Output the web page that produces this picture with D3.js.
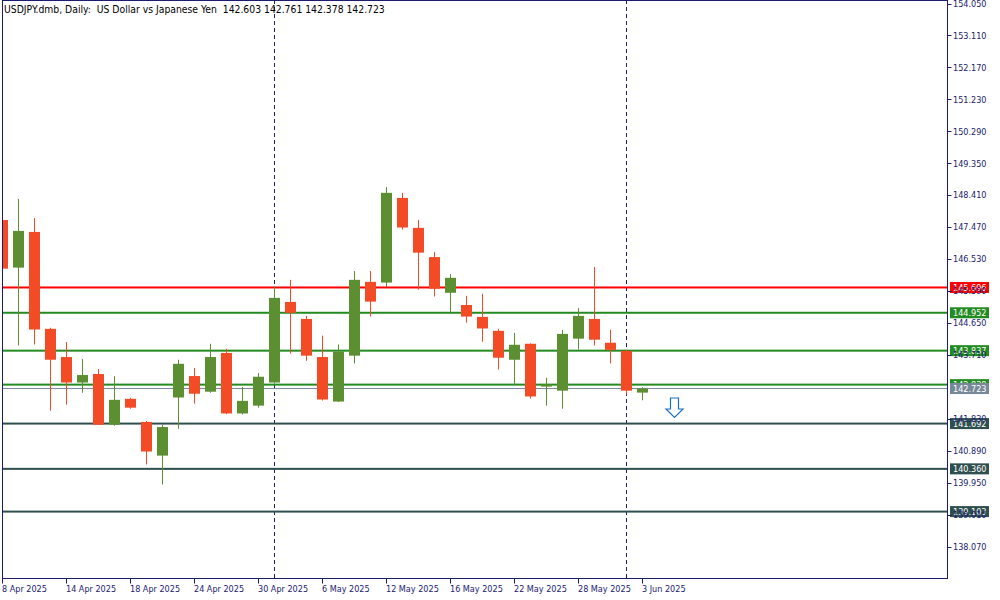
<!DOCTYPE html>
<html><head><meta charset="utf-8">
<script src="https://cdn.jsdelivr.net/npm/d3@7"></script>
<style>
body{margin:0;background:#fff}
svg{display:block}
text{font-family:"DejaVu Sans Condensed","DejaVu Sans",sans-serif;font-size:9px}
</style>
</head><body>
<svg id="c" width="1000" height="600"></svg>
<script>
const title = "USDJPY.dmb, Daily:  US Dollar vs Japanese Yen  142.603 142.761 142.378 142.723";
const dates = ["8 Apr 2025","9 Apr 2025","10 Apr 2025","11 Apr 2025","14 Apr 2025","15 Apr 2025","16 Apr 2025","17 Apr 2025","18 Apr 2025","21 Apr 2025","22 Apr 2025","23 Apr 2025","24 Apr 2025","25 Apr 2025","28 Apr 2025","29 Apr 2025","30 Apr 2025","1 May 2025","2 May 2025","5 May 2025","6 May 2025","7 May 2025","8 May 2025","9 May 2025","12 May 2025","13 May 2025","14 May 2025","15 May 2025","16 May 2025","19 May 2025","20 May 2025","21 May 2025","22 May 2025","23 May 2025","26 May 2025","27 May 2025","28 May 2025","29 May 2025","30 May 2025","2 Jun 2025","3 Jun 2025"];
const opens  = [147.68,146.28,147.33,144.48,143.65,142.90,143.15,141.66,142.42,141.74,140.75,142.46,143.09,142.63,143.77,141.99,142.22,142.90,145.27,144.77,143.65,142.34,143.69,145.86,145.84,148.33,147.45,146.59,145.54,145.18,144.83,144.42,143.57,144.04,142.78,142.66,144.19,144.77,144.07,143.83,142.603];
const highs  = [147.71,148.30,147.74,144.51,144.09,143.59,143.30,143.09,142.45,141.77,141.65,143.57,143.33,144.04,143.89,142.77,143.18,145.74,145.92,144.86,144.28,144.02,146.18,146.18,148.65,148.48,147.68,146.74,146.09,145.45,145.51,144.48,144.36,144.05,143.04,144.45,145.09,146.30,144.45,143.86,142.761];
const lows   = [146.24,143.99,144.02,142.07,142.25,142.60,141.65,141.63,142.13,140.49,139.90,141.54,142.28,142.60,141.97,141.96,142.16,142.87,143.75,143.54,142.37,142.33,143.46,144.84,145.71,147.40,145.63,145.43,144.96,144.66,144.10,143.28,142.81,142.43,142.22,142.13,143.87,143.99,143.46,142.54,142.378];
const closes = [146.25,147.36,144.46,143.57,142.90,143.12,141.66,142.39,142.16,140.87,141.59,143.45,142.57,143.65,141.99,142.36,143.07,145.39,144.95,143.69,142.40,143.81,145.92,145.28,148.48,147.46,146.72,145.66,145.98,144.84,144.49,143.63,144.01,142.49,142.84,144.33,144.86,144.16,143.86,142.66,142.723];
const priceTicks = ["154.050","153.110","152.170","151.230","150.290","149.350","148.410","147.470","146.530","145.590","144.650","143.710","141.830","140.890","139.950","139.010","138.070"];
const dateTickIdx = [0,4,8,12,16,20,24,28,32,36,40];
const separatorIdx = [17,39];
const resistanceLevels = [145.696];
const greenLevels = [144.952,143.837,142.838];
const supportLevels = [141.692,140.360,139.103];
const bidPrice = 142.723;
const signalIdx = 42;

const svg = d3.select("#c");
const navy = "#1B1B6F";
const L = 2.5, R = 947.5, T = 0.5, B = 578.5;

const x = d3.scaleLinear().domain([0, 40]).range([2.5, 642.5]);
const y = d3.scaleLinear().domain([138.07, 154.05]).range([546.7, 3.5]);

svg.append("defs").append("clipPath").attr("id", "clip")
  .append("rect").attr("x", 3).attr("y", 0).attr("width", R - 3).attr("height", B);

const plot = svg.append("g").attr("clip-path", "url(#clip)");
// separators
plot.selectAll("line.sep").data(separatorIdx).join("line")
  .attr("x1", d => x(d)).attr("x2", d => x(d)).attr("y1", 0).attr("y2", B)
  .attr("stroke", navy).attr("stroke-width", 1).attr("stroke-dasharray", "4,3");

// level lines
function levelLines(vals, color, w) {
  plot.selectAll(null).data(vals).join("rect")
    .attr("x", L).attr("width", R - L).attr("y", d => y(d) - w/2).attr("height", w)
    .attr("fill", color);
}
levelLines(resistanceLevels, "#FF0000", 2);
levelLines(greenLevels, "#228B22", 2);
levelLines(supportLevels, "#2F4F4F", 2);
plot.append("rect").attr("x", L).attr("width", R - L).attr("y", y(bidPrice) - 0.5).attr("height", 1).attr("fill", "#778899");

// candles
const idx = d3.range(dates.length);
const up = i => closes[i] >= opens[i];
const colUp = "#5B8F31", colDn = "#F24B25";
const cg = plot.append("g");
cg.selectAll("rect.w").data(idx).join("rect")
  .attr("x", i => x(i) - 0.5).attr("width", 1)
  .attr("y", i => y(highs[i])).attr("height", i => Math.max(1, y(lows[i]) - y(highs[i])))
  .attr("fill", i => up(i) ? colUp : colDn);
cg.selectAll("rect.b").data(idx).join("rect")
  .attr("x", i => x(i) - 5.5).attr("width", 11)
  .attr("y", i => y(Math.max(opens[i], closes[i])))
  .attr("height", i => Math.max(1.5, Math.abs(y(opens[i]) - y(closes[i]))))
  .attr("fill", i => up(i) ? colUp : colDn);

// signal arrow
const ax = x(signalIdx), ay = 398;
svg.append("path")
  .attr("d", `M${ax-4},${ay} L${ax+4},${ay} L${ax+4},${ay+11} L${ax+8.5},${ay+11} L${ax},${ay+19.5} L${ax-8.5},${ay+11} L${ax-4},${ay+11} Z`)
  .attr("fill", "#fff").attr("stroke", "#1F6FC0").attr("stroke-width", 1.2);

// frame
svg.append("rect").attr("x", L).attr("y", T).attr("width", R - L).attr("height", B - T)
  .attr("fill", "none").attr("stroke", navy).attr("stroke-width", 1);

// level labels (under tick labels)
function levelLabel(v, color) {
  svg.append("rect").attr("x", 950).attr("y", y(v) - 5.5).attr("width", 39).attr("height", 11).attr("fill", color);
  svg.append("text").attr("x", 953).attr("y", y(v)).attr("dy", "0.36em").attr("fill", "#fff").text(v.toFixed(3));
}
resistanceLevels.forEach(v => levelLabel(v, "#FF0000"));
greenLevels.forEach(v => levelLabel(v, "#228B22"));
supportLevels.forEach(v => levelLabel(v, "#2F4F4F"));

// right axis
const yAxis = svg.append("g");
yAxis.selectAll("line").data(priceTicks).join("line")
  .attr("x1", R).attr("x2", R + 4).attr("y1", d => Math.round(y(+d)) + 0.5).attr("y2", d => Math.round(y(+d)) + 0.5)
  .attr("stroke", navy);
yAxis.selectAll("text").data(priceTicks).join("text")
  .attr("x", 953).attr("y", d => y(+d)).attr("dy", "0.36em").attr("fill", navy).text(d => d);

// bid label on top
svg.append("rect").attr("x", 950).attr("y", y(bidPrice) - 5.5).attr("width", 39).attr("height", 11).attr("fill", "#778899");
svg.append("text").attr("x", 953).attr("y", y(bidPrice)).attr("dy", "0.36em").attr("fill", "#fff").text(bidPrice.toFixed(3));

// bottom axis
const xAxis = svg.append("g");
xAxis.selectAll("line").data(dateTickIdx).join("line")
  .attr("x1", d => x(d)).attr("x2", d => x(d)).attr("y1", B).attr("y2", B + 5).attr("stroke", navy);
xAxis.selectAll("text").data(dateTickIdx).join("text")
  .attr("x", d => x(d) - 0.5).attr("y", 592).attr("fill", navy).text(d => dates[d]);

// title
svg.append("text").attr("x", 4).attr("y", 12.5).attr("fill", "#000")
  .style("font-size", "10.3px")
  .style("white-space", "pre").attr("xml:space", "preserve").text(title);
</script>
</body></html>
